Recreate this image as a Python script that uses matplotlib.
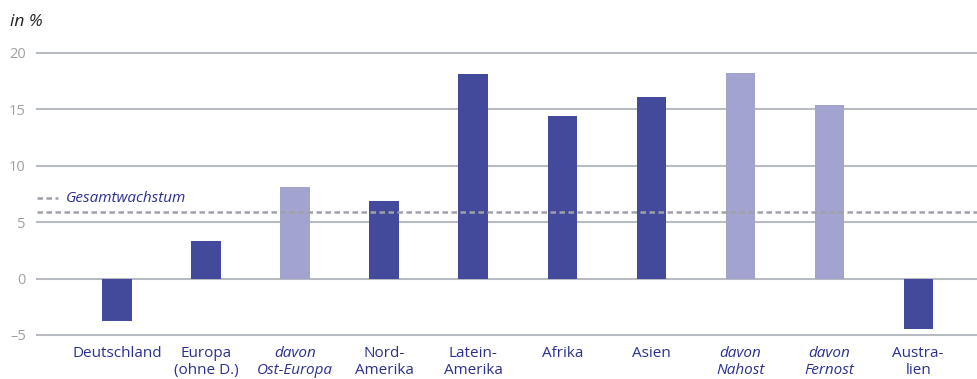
import matplotlib.pyplot as plt
import numpy as np

# --- data ---
categories = ['Deutschland', 'Europa\n(ohne D.)', 'davon\nOst-Europa', 'Nord-\nAmerika',
              'Latein-\nAmerika', 'Afrika', 'Asien', 'davon\nNahost', 'davon\nFernost',
              'Austra-\nlien']
values = [-3.8, 3.3, 8.1, 6.9, 18.1, 14.4, 16.1, 18.2, 15.4, -4.5]
is_sub = [False, False, True, False, False, False, False, True, True, False]
total_growth = 5.9
yticks = [-5, 0, 5, 10, 15, 20]

dark = '#434A9C'
light = '#A2A4CF'
text_blue = '#2B3090'
grid_col = '#B8BBC1'
dash_col = '#A0A1A8'

plt.rcParams['font.family'] = ['Open Sans', 'DejaVu Sans']

fig = plt.figure(figsize=(9.77, 3.79), dpi=100)
ax = fig.add_axes([37 / 977, (379 - 335) / 379, 940 / 977, (335 - 53) / 379])

x = np.arange(len(categories))
ax.set_xlim(-0.9, 9.66)
ax.set_ylim(-5, 20)

# horizontal grid lines
for t in yticks:
    ax.axhline(t, color=grid_col, lw=1.5, zorder=1, clip_on=False)

colors = [light if s else dark for s in is_sub]
ax.bar(x, values, width=0.33, color=colors, zorder=2)

# overall growth reference line + its key
ax.axhline(total_growth, color=dash_col, lw=1.8, ls=(0, (2.2, 1.4)), zorder=3)
fig.lines.append(plt.Line2D([37 / 977, 58 / 977], [1 - 198 / 379] * 2, color=dash_col,
                            lw=1.8, ls=(0, (2.2, 1.4)), transform=fig.transFigure))
fig.text(66 / 977, 1 - 199 / 379, 'Gesamtwachstum', color=text_blue, fontsize=11,
         style='italic', va='center', ha='left')

# y tick labels
ax.set_yticks(yticks)
ax.set_yticklabels(['\u20135' if t < 0 else str(t) for t in yticks])
ax.tick_params(axis='y', length=0, pad=8, labelsize=10.5, labelcolor='#A0A0A0')
ax.set_xticks([])
for s in ax.spines.values():
    s.set_visible(False)

# category labels
for xi, lab, sub in zip(x, categories, is_sub):
    ax.text(xi, -6.0, lab, ha='center', va='top', fontsize=11, color=text_blue,
            style='italic' if sub else 'normal', linespacing=1.2)

fig.text(10 / 977, 1 - 22 / 379, 'in %', fontsize=12.5, style='italic', color='#222222',
         va='center', ha='left')

fig.savefig('out.png', dpi=100)
